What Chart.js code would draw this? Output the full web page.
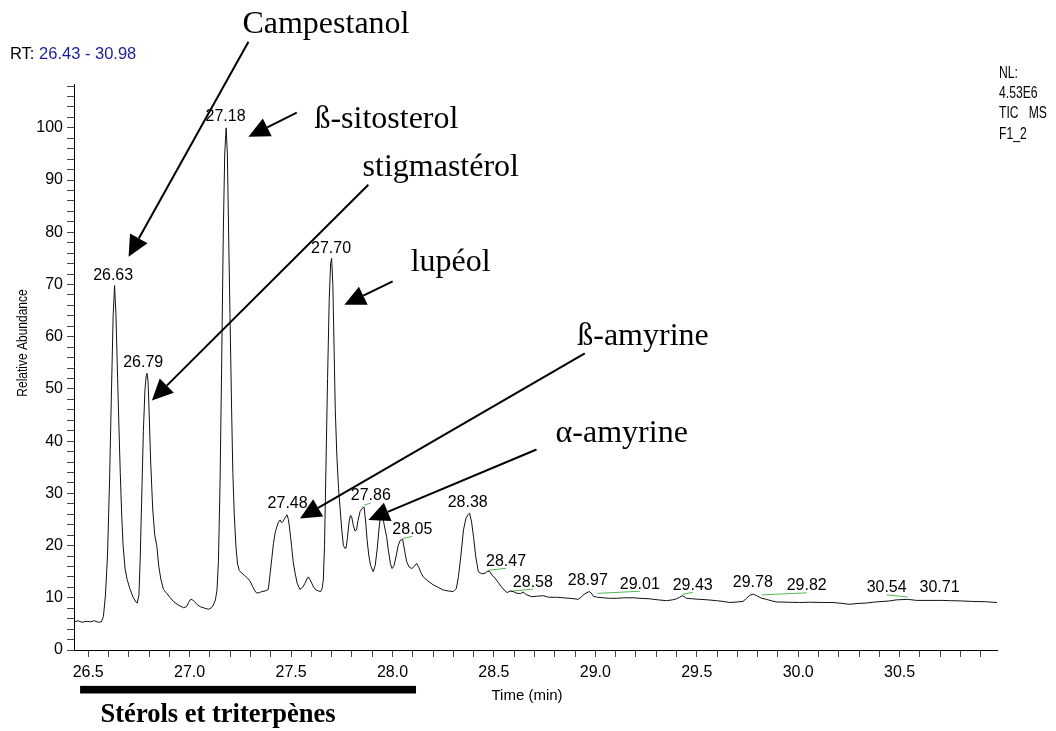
<!DOCTYPE html>
<html lang="fr">
<head>
<meta charset="utf-8">
<title>Chromatogramme TIC – stérols et triterpènes</title>
<script src="https://cdn.jsdelivr.net/npm/chart.js@4/dist/chart.umd.min.js"></script>
<style>
  html, body { margin: 0; padding: 0; background: #fff; }
  #wrap { width: 1056px; height: 731px; position: relative; }
</style>
</head>
<body>
<div id="wrap"><canvas id="tic" width="1056" height="731"></canvas></div>
<script>
// ---- Trace: retention time (min) and relative abundance (%) ----
const retentionTime = [
  26.43, 26.45, 26.47, 26.49, 26.51, 26.53, 26.55, 26.565, 26.575, 26.585,
  26.595, 26.605, 26.615, 26.623, 26.63, 26.637, 26.645, 26.652, 26.658, 26.665,
  26.672, 26.682, 26.692, 26.705, 26.72, 26.735, 26.742, 26.75, 26.756, 26.763,
  26.772, 26.78, 26.786, 26.79, 26.795, 26.8, 26.808, 26.818, 26.828, 26.838,
  26.848, 26.858, 26.871, 26.888, 26.905, 26.92, 26.945, 26.97, 26.985, 26.995,
  27.005, 27.015, 27.027, 27.04, 27.052, 27.075, 27.093, 27.108, 27.117, 27.127,
  27.135, 27.142, 27.15, 27.158, 27.166, 27.173, 27.18, 27.186, 27.193, 27.2,
  27.207, 27.213, 27.22, 27.228, 27.236, 27.245, 27.257, 27.27, 27.285, 27.298,
  27.31, 27.322, 27.331, 27.345, 27.356, 27.372, 27.388, 27.397, 27.405, 27.413,
  27.422, 27.43, 27.438, 27.446, 27.453, 27.46, 27.47, 27.48, 27.487, 27.492,
  27.498, 27.503, 27.51, 27.52, 27.53, 27.544, 27.557, 27.569, 27.578, 27.585,
  27.593, 27.602, 27.612, 27.623, 27.635, 27.646, 27.653, 27.659, 27.665, 27.672,
  27.68, 27.688, 27.695, 27.7, 27.706, 27.712, 27.718, 27.726, 27.734, 27.742,
  27.75, 27.758, 27.765, 27.771, 27.778, 27.786, 27.793, 27.799, 27.806, 27.815,
  27.823, 27.83, 27.84, 27.85, 27.86, 27.868, 27.875, 27.883, 27.892, 27.905,
  27.915, 27.925, 27.933, 27.94, 27.947, 27.953, 27.96, 27.971, 27.98, 27.99,
  27.998, 28.008, 28.018, 28.028, 28.038, 28.05, 28.06, 28.07, 28.082, 28.095,
  28.107, 28.119, 28.13, 28.14, 28.152, 28.175, 28.2, 28.225, 28.25, 28.275,
  28.3, 28.315, 28.325, 28.337, 28.35, 28.362, 28.372, 28.38, 28.39, 28.4,
  28.41, 28.423, 28.44, 28.456, 28.47, 28.48, 28.493, 28.505, 28.52, 28.535,
  28.55, 28.565, 28.58, 28.595, 28.61, 28.63, 28.644, 28.66, 28.686, 28.71,
  28.743, 28.77, 28.809, 28.84, 28.874, 28.9, 28.915, 28.93, 28.945, 28.97,
  28.98, 28.99, 29.01, 29.04, 29.07, 29.104, 29.14, 29.186, 29.22, 29.268,
  29.31, 29.35, 29.38, 29.4, 29.415, 29.43, 29.449, 29.48, 29.515, 29.555,
  29.597, 29.63, 29.663, 29.7, 29.728, 29.745, 29.762, 29.78, 29.795, 29.82,
  29.843, 29.87, 29.892, 29.95, 30.007, 30.06, 30.12, 30.171, 30.21, 30.254,
  30.29, 30.336, 30.38, 30.418, 30.45, 30.484, 30.54, 30.583, 30.63, 30.71,
  30.747, 30.8, 30.861, 30.92, 30.98
];
const relAbundance = [
  5.4, 5.6, 5.3, 5.5, 5.4, 5.6, 5.3, 5.4, 6.4, 10.5,
  18, 32, 50, 64, 69.8, 64, 52, 42, 34, 26,
  20, 15.5, 13.5, 11.8, 10.2, 9.2, 9.0, 10.5, 17, 28,
  42, 50, 52.5, 53, 51.5, 46, 36, 27, 22, 20,
  16, 13.6, 11.6, 10.8, 10, 9.3, 8.6, 8.1, 8.3, 9.1,
  9.7, 9.6, 9.1, 8.6, 8.3, 8.0, 7.8, 8.1, 8.6, 9.6,
  11.5, 17, 32, 55, 80, 95, 100, 95, 78, 62,
  46, 34, 26, 20, 16.5, 15.2, 14.7, 14.3, 13.8, 13.2,
  12.2, 11.3, 10.9, 11.0, 11.2, 11.3, 11.6, 14.7, 17.5, 20.4,
  22.5, 23.6, 24.5, 24.9, 24.4, 24.6, 25.3, 25.9, 25, 23.6,
  21.5, 19.8, 17, 14.7, 12.8, 11.6, 12, 12.8, 13.6, 14,
  13.5, 12.8, 12, 11.5, 11.3, 11.2, 11.8, 13.4, 20, 35,
  52, 67, 74, 75, 70, 58, 46, 37, 31, 27,
  23, 20, 19.5, 19.5, 21.5, 24.5, 25.8, 25.5, 24, 22.8,
  23, 24.8, 26.5, 27.1, 27.4, 24.5, 21, 18.2, 16.2, 15,
  16.2, 19.5, 23, 25.5, 26.2, 25.3, 23.8, 21.7, 19, 16.5,
  15.6, 16.2, 18, 20, 21, 21.2, 19, 16.9, 15.9, 15.6,
  16, 16.6, 15.8, 14.8, 14, 13.2, 12.5, 12, 11.5, 11.3,
  11.2, 11.8, 14, 18, 23, 25.2, 25.9, 26.2, 24.5, 21.5,
  18, 15, 14.6, 14.7, 15.1, 15, 14.2, 13.8, 13, 12.2,
  11.5, 11, 11.3, 11.2, 10.9, 10.8, 11.1, 10.6, 10.2, 10.3,
  10.4, 10.1, 10.1, 10, 9.9, 9.8, 9.7, 10.1, 10.7, 11.2,
  10.9, 10.3, 10.1, 10, 9.9, 9.9, 10, 10, 9.9, 9.8,
  9.6, 9.45, 9.6, 9.8, 10.1, 10.4, 9.9, 9.8, 9.7, 9.6,
  9.45, 9.3, 9.1, 9.2, 9.3, 9.9, 10.5, 10.7, 10.4, 9.9,
  9.7, 9.4, 9.2, 9.15, 9.1, 9.15, 9.1, 9.1, 8.95, 8.75,
  8.9, 9, 9.2, 9.3, 9.4, 9.6, 9.7, 9.5, 9.5, 9.5,
  9.45, 9.4, 9.3, 9.25, 9.1
];

// ---- Peak retention-time labels ----
const peakLabels = ['26.63', '26.79', '27.18', '27.48', '27.70', '27.86', '28.05', '28.38', '28.47',
                    '28.58', '28.97', '29.01', '29.43', '29.78', '29.82', '30.54', '30.71'];
// where each label's text is centred (time, abundance)
const labelTime  = [26.623, 26.771, 27.177, 27.483, 27.697, 27.893, 28.098, 28.371, 28.56,
                    28.692, 28.963, 29.219, 29.48, 29.776, 30.042, 30.436, 30.697];
const labelLevel = [71.7, 55.0, 102.2, 28.0, 76.8, 29.5, 23.1, 28.2, 17.0,
                    13.0, 13.2, 12.6, 12.4, 13.0, 12.3, 11.9, 11.9];
// labels displaced from their peak get a green leader back to the peak
const leaderPeaks = ['27.86', '28.05', '28.47', '28.58', '29.01', '29.43', '29.82', '30.54'];

// ---- Axis tick labels ----
const xMajorTickLabels = ['26.5', '27.0', '27.5', '28.0', '28.5', '29.0', '29.5', '30.0', '30.5'];
const yMajorTickLabels = ['0', '10', '20', '30', '40', '50', '60', '70', '80', '90', '100'];

// ---- Compound annotations (time, abundance coordinates) ----
const compoundNames = ['Campestanol', 'ß-sitosterol', 'stigmastérol', 'lupéol', 'ß-amyrine', 'α-amyrine'];
const nameAnchor = [[27.672, 118.1], [27.97, 99.9], [28.238, 90.7], [28.287, 72.5], [29.235, 58.4], [29.13, 39.9]];
const arrowFrom  = [[27.29, 116.5], [27.528, 102.9], [27.881, 89.1], [28.001, 70.6], [28.948, 56.8], [28.71, 38.4]];
const arrowTip   = [[26.699, 75.3], [27.29, 98.3], [26.814, 47.8], [27.763, 66.1], [27.544, 25.2], [27.881, 24.9]];

// ---- Elution window of the sterol / triterpene group ----
const groupName = 'Stérols et triterpènes';
const groupSpan = [26.46, 28.116];

// ---- Acquisition header ----
const headerLines = ['NL:', '4.53E6', 'TIC   MS', 'F1_2'];

const SANS = '"Liberation Sans", Arial, Helvetica, sans-serif';
const SERIF = '"Liberation Serif", "Times New Roman", Times, serif';

const tracePoints = retentionTime.map((t, i) => ({ x: t, y: relAbundance[i] }));

const leaderSets = leaderPeaks.map(lab => {
  const i = peakLabels.indexOf(lab);
  const peakT = parseFloat(lab);
  return {
    data: [{ x: peakT, y: labelLevel[i] - 1.75 }, { x: labelTime[i], y: labelLevel[i] - 1.35 }],
    borderColor: '#52b852',
    borderWidth: 1,
    pointRadius: 0,
    tension: 0,
    fill: false
  };
});

const xTickValues = [];
for (let k = 0; k <= 44; k++) xTickValues.push(Math.round((26.5 + k * 0.1) * 10) / 10);
const yTickValues = [];
for (let k = 0; k <= 54; k++) yTickValues.push(k * 2);

function drawArrow(ctx, x1, y1, x2, y2) {
  const ang = Math.atan2(y2 - y1, x2 - x1);
  const headLen = 21, halfW = 10;
  const bx = x2 - headLen * Math.cos(ang), by = y2 - headLen * Math.sin(ang);
  ctx.beginPath();
  ctx.moveTo(x1, y1);
  ctx.lineTo(bx, by);
  ctx.stroke();
  ctx.beginPath();
  ctx.moveTo(x2, y2);
  ctx.lineTo(bx + halfW * Math.sin(ang), by - halfW * Math.cos(ang));
  ctx.lineTo(bx - halfW * Math.sin(ang), by + halfW * Math.cos(ang));
  ctx.closePath();
  ctx.fill();
}

const overlay = {
  id: 'overlay',
  afterDraw(chart) {
    const { ctx, scales: { x, y } } = chart;
    const px = t => x.getPixelForValue(t);
    const py = v => y.getPixelForValue(v);
    ctx.save();

    // peak labels
    ctx.fillStyle = '#000';
    ctx.font = '16px ' + SANS;
    ctx.textAlign = 'center';
    ctx.textBaseline = 'middle';
    peakLabels.forEach((lab, i) => ctx.fillText(lab, px(labelTime[i]), py(labelLevel[i])));

    // axis titles
    ctx.save();
    ctx.translate(23, 343);
    ctx.rotate(-Math.PI / 2);
    ctx.scale(0.8, 1);
    ctx.font = '15px ' + SANS;
    ctx.fillText('Relative Abundance', 0, 0);
    ctx.restore();
    ctx.font = '15px ' + SANS;
    ctx.fillText('Time (min)', 527, 696);

    // range header
    ctx.textAlign = 'left';
    ctx.textBaseline = 'alphabetic';
    ctx.font = '16.5px ' + SANS;
    ctx.fillStyle = '#000';
    ctx.fillText('RT: ', 10, 59);
    const w = ctx.measureText('RT: ').width;
    ctx.fillStyle = '#1c1ca0';
    ctx.fillText('26.43 - 30.98', 10 + w, 59);

    // normalisation block
    ctx.fillStyle = '#000';
    ctx.font = '16px ' + SANS;
    headerLines.forEach((line, i) => {
      ctx.save();
      ctx.translate(999, 77.5 + i * 20.4);
      ctx.scale(0.76, 1);
      ctx.fillText(line, 0, 0);
      ctx.restore();
    });

    // compound names and arrows
    ctx.font = '32px ' + SERIF;
    ctx.textAlign = 'center';
    compoundNames.forEach((name, i) => {
      ctx.fillText(name, px(nameAnchor[i][0]), py(nameAnchor[i][1]));
    });
    ctx.strokeStyle = '#000';
    ctx.lineWidth = 2;
    compoundNames.forEach((name, i) => {
      drawArrow(ctx, px(arrowFrom[i][0]), py(arrowFrom[i][1]), px(arrowTip[i][0]), py(arrowTip[i][1]));
    });

    // group bar and caption
    ctx.fillRect(px(groupSpan[0]), py(-7.6) - 3.8, px(groupSpan[1]) - px(groupSpan[0]), 7.6);
    ctx.font = 'bold 26.5px ' + SERIF;
    ctx.textAlign = 'center';
    ctx.fillText(groupName, px((groupSpan[0] + groupSpan[1]) / 2) - 30, py(-13.7));

    ctx.restore();
  }
};

Chart.defaults.font.family = SANS;

new Chart(document.getElementById('tic'), {
  type: 'line',
  data: {
    datasets: [{
      data: tracePoints,
      borderColor: '#111',
      borderWidth: 1,
      pointRadius: 0,
      tension: 0,
      fill: false
    }, ...leaderSets]
  },
  options: {
    responsive: false,
    animation: false,
    devicePixelRatio: 1,
    parsing: false,
    layout: { padding: { left: 0, right: 59, top: 84, bottom: 0 } },
    plugins: { legend: { display: false }, tooltip: { enabled: false }, title: { display: false } },
    scales: {
      x: {
        type: 'linear',
        min: 26.43,
        max: 30.98,
        afterBuildTicks: s => { s.ticks = xTickValues.map(v => ({ value: v })); },
        afterFit: s => { s.height = 81; },
        ticks: {
          autoSkip: false,
          maxRotation: 0,
          padding: 6,
          color: '#000',
          font: { size: 16 },
          callback: v => {
            const lab = xMajorTickLabels.find(l => Math.abs(parseFloat(l) - v) < 1e-6);
            return lab === undefined ? '' : lab;
          }
        },
        grid: { drawOnChartArea: false, drawTicks: true, tickLength: 7, color: '#444', lineWidth: 1 },
        border: { display: true, color: '#000', width: 1 }
      },
      y: {
        type: 'linear',
        min: 0,
        max: 108.4,
        afterBuildTicks: s => { s.ticks = yTickValues.map(v => ({ value: v })); },
        afterFit: s => { s.width = 74; },
        ticks: {
          autoSkip: false,
          padding: 4,
          color: '#000',
          font: { size: 16 },
          callback: v => {
            const lab = yMajorTickLabels.find(l => Math.abs(parseFloat(l) - v) < 1e-6);
            return lab === undefined ? '' : lab;
          }
        },
        grid: { drawOnChartArea: false, drawTicks: true, tickLength: 7, color: '#444', lineWidth: 1 },
        border: { display: true, color: '#000', width: 1 }
      }
    }
  },
  plugins: [overlay]
});
</script>
</body>
</html>
